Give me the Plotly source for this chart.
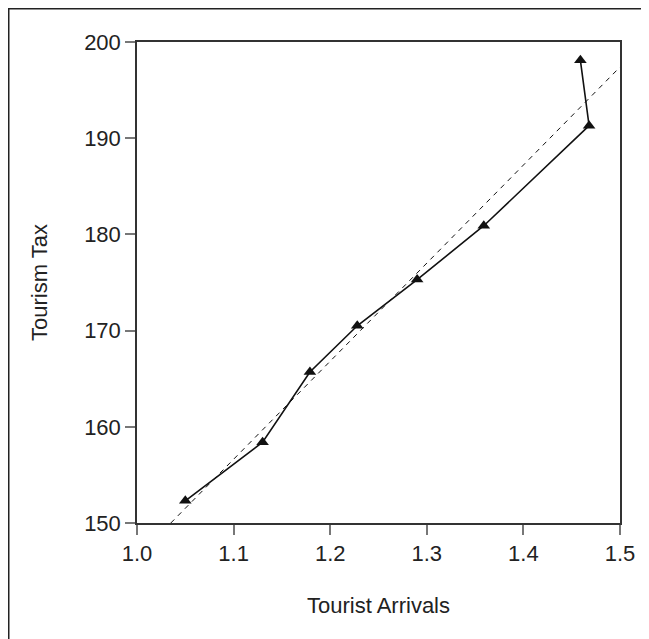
import plotly.graph_objects as go

arrivals = [1.05, 1.13, 1.179, 1.228, 1.29, 1.359, 1.468, 1.459]
tax = [152.3, 158.4, 165.7, 170.5, 175.3, 180.9, 191.3, 198.1]
fit_x = [1.035, 1.5]
fit_y = [150.0, 197.4]

FONT = "Liberation Sans, Arial, sans-serif"
TXT = "#222222"

# page body has an 8px margin, so the figure fills the rest of the window
W, H = 641, 631
L, T, PW, PH = 129, 34, 483, 481
R = W - L - PW
B = H - T - PH

fig = go.Figure()
fig.add_trace(go.Scatter(x=fit_x, y=fit_y, mode="lines",
                         line=dict(color="#111111", width=1, dash="5px,5px"),
                         showlegend=False, hoverinfo="skip"))
fig.add_trace(go.Scatter(x=arrivals, y=tax, mode="lines+markers",
                         line=dict(color="#111111", width=1.6),
                         marker=dict(symbol="triangle-up", size=11, color="#111111"),
                         showlegend=False))

fig.update_layout(
    width=W, height=H,
    margin=dict(l=L, r=R, t=T, b=B),
    paper_bgcolor="white", plot_bgcolor="white",
    font=dict(family=FONT, color=TXT, size=22),
    xaxis=dict(range=[1.0, 1.5], tickvals=[1.0, 1.1, 1.2, 1.3, 1.4, 1.5],
               ticktext=["1.0", "1.1", "1.2", "1.3", "1.4", "1.5"],
               showgrid=False, zeroline=False, showline=True, linecolor="#333333",
               linewidth=1.5, mirror=True, ticks="outside", ticklen=10,
               tickcolor="#777777", tickwidth=1.5,
               title=dict(text="Tourist Arrivals", standoff=32, font=dict(size=22))),
    yaxis=dict(range=[150, 200], tickvals=[150, 160, 170, 180, 190, 200],
               showgrid=False, zeroline=False, showline=True, linecolor="#333333",
               linewidth=1.5, mirror=True, ticks="outside", ticklen=10,
               tickcolor="#777777", tickwidth=1.5,
               title=dict(text="Tourism Tax", standoff=30, font=dict(size=22))),
    shapes=[dict(type="rect", xref="paper", yref="paper",
                 x0=(0.75 - L) / PW, x1=(W + 30 - L) / PW,
                 y0=(T + PH - (H + 30)) / PH,
                 y1=(T + PH - 0.75) / PH,
                 line=dict(color="#222222", width=1.5), fillcolor="rgba(0,0,0,0)",
                 layer="below")],
)

fig.write_html("out.html")
